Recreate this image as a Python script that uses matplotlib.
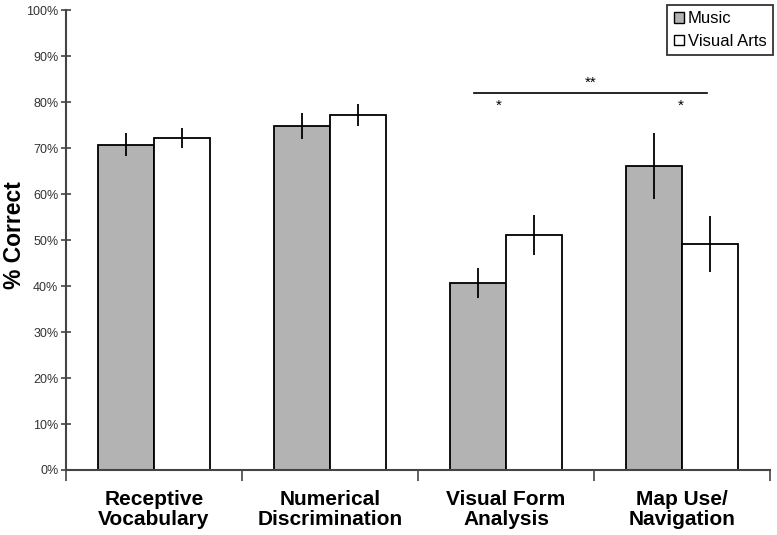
import matplotlib
matplotlib.use("Agg")
import matplotlib.pyplot as plt
import numpy as np
from matplotlib.patches import Patch

categories = ["Receptive\nVocabulary", "Numerical\nDiscrimination", "Visual Form\nAnalysis", "Map Use/\nNavigation"]
music = [70.7, 74.8, 40.7, 66.1]
music_err = [2.5, 2.9, 3.3, 7.2]
arts = [72.2, 77.3, 51.1, 49.2]
arts_err = [2.2, 2.4, 4.4, 6.1]
yticks = [0, 10, 20, 30, 40, 50, 60, 70, 80, 90, 100]
ytick_labels = [f"{v}%" for v in yticks]
sig_line = (1.82, 3.14, 81.9)
sig_stars = [(2.48, 84.1, "**"), (1.96, 79.3, "*"), (2.99, 79.3, "*")]

fig = plt.figure(figsize=(7.77, 5.35), dpi=100)
ax = fig.add_axes([0.085, 0.1215, 0.906, 0.8595])

x = np.arange(len(categories))
w = 0.318
ax.bar(x - w/2, music, w, color="#b3b3b3", edgecolor="black", linewidth=1.3, zorder=2)
ax.bar(x + w/2, arts, w, color="white", edgecolor="black", linewidth=1.3, zorder=2)
ax.errorbar(x - w/2, music, yerr=music_err, fmt="none", ecolor="black", elinewidth=1.3, capsize=0, zorder=3)
ax.errorbar(x + w/2, arts, yerr=arts_err, fmt="none", ecolor="black", elinewidth=1.3, capsize=0, zorder=3)

ax.set_xlim(-0.5, 3.5)
ax.set_ylim(0, 100)
ax.set_yticks(yticks)
ax.set_yticklabels(ytick_labels, fontsize=9, family=["Liberation Sans", "DejaVu Sans"], color="#333333")
ax.tick_params(axis="y", direction="inout", length=7, width=1.2, color="#444444", pad=2)

ax.set_xticks(np.arange(-0.5, 4.0, 1.0))
ax.set_xticklabels([])
ax.tick_params(axis="x", direction="out", length=8, width=1.2, color="#444444")
for xi, lab in zip(x, categories):
    ax.text(xi, -4.3, lab, ha="center", va="top", fontsize=15, fontweight="bold",
            family=["Liberation Sans", "DejaVu Sans"],
            transform=ax.transData, linespacing=1.1)

for s in ["top", "right"]:
    ax.spines[s].set_visible(False)
for s in ["left", "bottom"]:
    ax.spines[s].set_color("#444444")
    ax.spines[s].set_linewidth(1.5)

fig.text(15 / 777, 1 - 235 / 535, "% Correct", rotation=90, ha="center", va="center",
         fontsize=16.5, fontweight="bold", family=["Liberation Sans", "DejaVu Sans"])

# significance annotations
ax.plot([sig_line[0], sig_line[1]], [sig_line[2], sig_line[2]], color="black", lw=1.2)
for sx, sy, st in sig_stars:
    ax.text(sx, sy, st, ha="center", va="center", fontsize=11, family=["Liberation Sans", "DejaVu Sans"])

handles = [Patch(facecolor="#b3b3b3", edgecolor="black", linewidth=1.0),
           Patch(facecolor="white", edgecolor="black", linewidth=1.0)]
leg = ax.legend(handles, ["Music", "Visual Arts"], loc="upper right", bbox_to_anchor=(1.004, 1.011),
                frameon=True, fancybox=False, edgecolor="black",
                handlelength=0.6, handleheight=0.6, handletextpad=0.25, borderpad=0.38,
                borderaxespad=0.0, labelspacing=0.45,
                prop={"family": ["Liberation Sans", "DejaVu Sans"], "size": 12})
leg.get_frame().set_linewidth(1.3)

fig.savefig("out.png", dpi=100)
